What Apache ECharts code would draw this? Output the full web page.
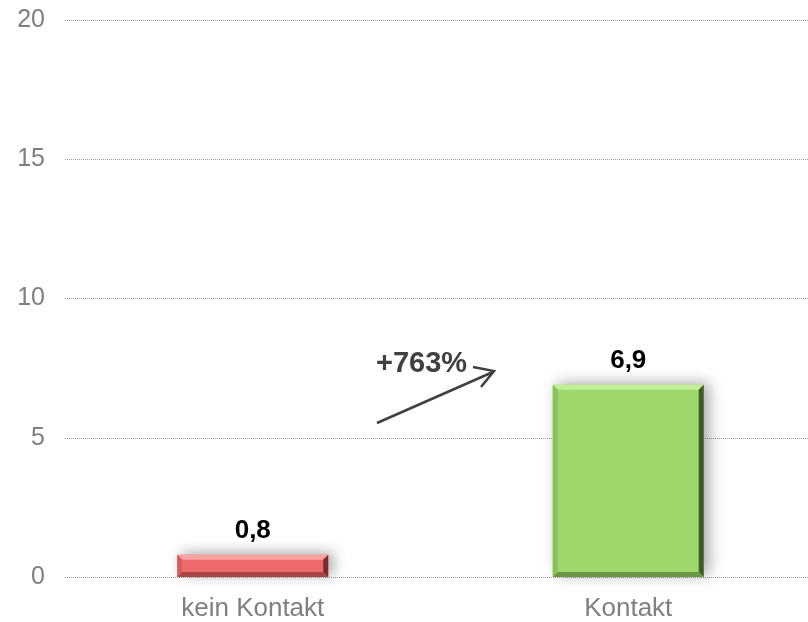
<!DOCTYPE html>
<html>
<head>
<meta charset="utf-8">
<script src="https://cdn.jsdelivr.net/npm/echarts@6/dist/echarts.min.js"></script>
<style>
  html, body { margin: 0; padding: 0; background: #fff; overflow: hidden; }
  #chart { width: 816px; height: 622px; }
</style>
</head>
<body>
<div id="chart"></div>
<script>
// Daten
const categories = ['kein Kontakt', 'Kontakt'];
const values = [0.8, 6.9];
const valueLabels = ['0,8', '6,9'];
const changeLabel = '+763%';

// Farben je Balken: Fläche, Kante oben, links, rechts, unten
const faceColors = ['#ee6b6b', '#9ed76c'];
const topEdge = ['#f9a3a3', '#c2ef98'];
const leftEdge = ['#d95b5b', '#88c258'];
const rightEdge = ['#7d2c2c', '#3f5b25'];
const bottomEdge = ['#a84545', '#6c9646'];

const chart = echarts.init(document.getElementById('chart'));

function renderBar(params, api) {
  const i = params.dataIndex;
  const topPt = api.coord([api.value(0), api.value(1)]);
  const basePt = api.coord([api.value(0), 0]);
  const w = api.size([1, 0])[0] * 0.402;
  const x0 = topPt[0] - w / 2, x1 = x0 + w;
  const y0 = topPt[1], y1 = basePt[1];
  const b = 5;
  return {
    type: 'group',
    children: [
      {
        type: 'rect',
        shape: { x: x0, y: y0, width: w, height: y1 - y0 },
        style: {
          fill: faceColors[i],
          shadowColor: 'rgba(0,0,0,0.35)',
          shadowBlur: 14,
          shadowOffsetX: 5,
          shadowOffsetY: -2
        }
      },
      { type: 'polygon', shape: { points: [[x0, y0], [x1, y0], [x1 - b, y0 + b], [x0 + b, y0 + b]] }, style: { fill: topEdge[i] } },
      { type: 'polygon', shape: { points: [[x0, y0], [x0 + b, y0 + b], [x0 + b, y1 - b], [x0, y1]] }, style: { fill: leftEdge[i] } },
      { type: 'polygon', shape: { points: [[x1, y0], [x1, y1], [x1 - b, y1 - b], [x1 - b, y0 + b]] }, style: { fill: rightEdge[i] } },
      { type: 'polygon', shape: { points: [[x0, y1], [x1, y1], [x1 - b, y1 - b], [x0 + b, y1 - b]] }, style: { fill: bottomEdge[i] } },
      {
        type: 'text',
        x: topPt[0],
        y: y0 - 11,
        style: {
          text: valueLabels[i],
          fill: '#000',
          font: 'bold 26px "Liberation Sans", Arial',
          align: 'center',
          verticalAlign: 'bottom'
        }
      }
    ]
  };
}

const option = {
  animation: false,
  grid: { left: 65, right: 0, top: 20, bottom: 45 },
  xAxis: {
    type: 'category',
    data: categories,
    axisLine: { show: false },
    axisTick: { show: false },
    axisLabel: { color: '#7f7f7f', fontSize: 26, fontFamily: 'Liberation Sans, Arial', margin: 19 }
  },
  yAxis: {
    type: 'value',
    min: 0,
    max: 20,
    interval: 5,
    axisLine: { show: false },
    axisTick: { show: false },
    axisLabel: { color: '#7f7f7f', fontSize: 25, fontFamily: 'Liberation Sans, Arial', margin: 20 },
    splitLine: { lineStyle: { color: '#9a9a9a', type: [1, 1], width: 1 } }
  },
  series: [{
    type: 'custom',
    renderItem: renderBar,
    encode: { x: 0, y: 1 },
    data: values.map((v, i) => [i, v])
  }],
  graphic: [
    {
      type: 'text',
      left: 376,
      top: 349,
      style: {
        text: changeLabel,
        fill: '#404040',
        font: 'bold 29px "Liberation Sans", Arial'
      }
    },
    {
      type: 'line',
      shape: { x1: 377, y1: 423, x2: 493, y2: 372 },
      style: { stroke: '#404040', lineWidth: 2.5 }
    },
    {
      type: 'polyline',
      shape: { points: [[473, 367], [494, 371], [481, 387]] },
      style: { stroke: '#404040', lineWidth: 2.5, fill: null }
    }
  ]
};

chart.setOption(option);
</script>
</body>
</html>
